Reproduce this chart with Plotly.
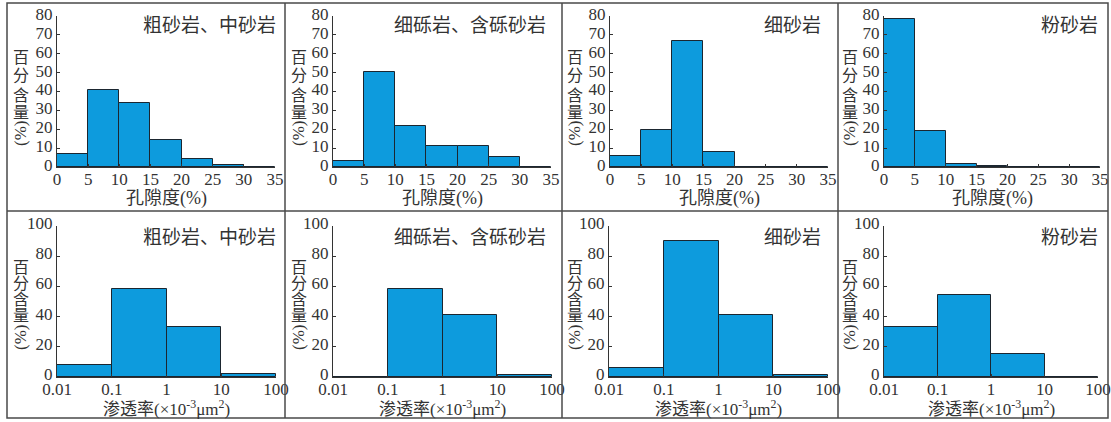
import math
import plotly.graph_objects as go

# ---------------- data ----------------
rock_types = ["粗砂岩、中砂岩", "细砾岩、含砾砂岩", "细砂岩", "粉砂岩"]

# porosity bins (%)
por_bin_left = [0, 5, 10, 15, 20, 25, 30]
por_ticks = [0, 5, 10, 15, 20, 25, 30, 35]
por_coarse = [7, 41, 34, 14.5, 4, 1, 0]
por_gravel = [3, 50.5, 21.5, 11, 11, 5.5, 0]
por_fine = [6, 19.5, 67, 8, 0, 0, 0]
por_silt = [78.5, 19, 1.5, 0.5, 0, 0, 0]

# permeability bins (x10^-3 um^2)
perm_edges = [0.01, 0.1, 1, 10, 100]
perm_tick_labels = ["0.01", "0.1", "1", "10", "100"]
perm_coarse = [8, 58.5, 33, 2]
perm_gravel = [0, 58, 41, 1.5]
perm_fine = [6, 90, 41, 1.5]
perm_silt = [33, 54, 15, 0]

por_series = [por_coarse, por_gravel, por_fine, por_silt]
perm_series = [perm_coarse, perm_gravel, perm_fine, perm_silt]

# ---------------- layout helpers ----------------
W, H = 1111, 422
def px(x):
    return x / W
def py(y):
    return 1 - y / H

BAR_FILL = "#0D9BDD"
BAR_EDGE = "#1b2630"
AX = "#333333"
TXT = "#333333"
NUM_FONT = '"Liberation Serif", "DejaVu Serif", serif'
CJK_FONT = '"Liberation Serif", "Noto Sans CJK SC", serif'

top_x = [(57, 275), (333, 551), (610, 828), (884, 1100)]
bot_x = [(57, 276), (333, 552), (609, 828), (884, 1098)]
top_y = (16, 167)
bot_y = (226, 377)

fig = go.Figure()
layout = {}
annotations = []

perm_log = [math.log10(v) for v in perm_edges]
perm_centers = [(perm_log[i] + perm_log[i + 1]) / 2 for i in range(len(perm_log) - 1)]
por_centers = [b + 2.5 for b in por_bin_left]

def axis_common():
    return dict(showline=True, linecolor=AX, linewidth=1, ticks="inside", ticklen=3,
                tickcolor=AX, showgrid=False, zeroline=False, automargin=False,
                ticklabeloverflow="allow",
                tickfont=dict(family=NUM_FONT, size=17, color=TXT))

for i in range(8):
    row = i // 4
    col = i % 4
    idx = i + 1
    xa = "x" if idx == 1 else f"x{idx}"
    ya = "y" if idx == 1 else f"y{idx}"
    xkey = "xaxis" if idx == 1 else f"xaxis{idx}"
    ykey = "yaxis" if idx == 1 else f"yaxis{idx}"
    if row == 0:
        x0, x1 = top_x[col]
        y0, y1 = top_y
        vals = por_series[col]
        fig.add_trace(go.Bar(x=por_centers, y=vals, width=[5] * len(vals), xaxis=xa, yaxis=ya,
                             marker=dict(color=BAR_FILL, line=dict(color=BAR_EDGE, width=1)),
                             showlegend=False, hoverinfo="skip"))
        xax = axis_common()
        xax.update(domain=[px(x0), px(x1)], range=[0, 35], tickmode="array", tickvals=por_ticks,
                   anchor=ya, ticklabelstandoff=-3)
        yax = axis_common()
        yax.update(domain=[py(y1), py(y0)], range=[0, 80], tickmode="array",
                   tickvals=list(range(0, 81, 10)), anchor=xa, ticklabelshift=-2)
        xtitle = "孔隙度(%)"
        xtitle_y = 198
        xt_size = 18
    else:
        x0, x1 = bot_x[col]
        y0, y1 = bot_y
        vals = perm_series[col]
        fig.add_trace(go.Bar(x=perm_centers, y=vals, width=[1] * len(vals), xaxis=xa, yaxis=ya,
                             marker=dict(color=BAR_FILL, line=dict(color=BAR_EDGE, width=1)),
                             showlegend=False, hoverinfo="skip"))
        xax = axis_common()
        xax.update(domain=[px(x0), px(x1)], range=[perm_log[0], perm_log[-1]], tickmode="array",
                   tickvals=perm_log, ticktext=perm_tick_labels, anchor=ya, ticklabelstandoff=-3)
        yax = axis_common()
        yax.update(domain=[py(y1), py(y0)], range=[0, 100], tickmode="array",
                   tickvals=list(range(0, 101, 20)), anchor=xa, ticklabelshift=-3)
        xtitle = "渗透率(×10<sup>-3</sup>μm<sup>2</sup>)"
        xtitle_y = 408
        xt_size = 17
    layout[xkey] = xax
    layout[ykey] = yax

    # x axis title
    annotations.append(dict(text=xtitle, x=px((x0 + x1) / 2), y=py(xtitle_y), xref="paper", yref="paper",
                            xanchor="center", yanchor="middle", showarrow=False,
                            font=dict(family=CJK_FONT, size=xt_size, color=TXT)))
    # panel label
    title_right = [278, 548, 823, 1100][col]
    title_y = 26 if row == 0 else 237
    annotations.append(dict(text=rock_types[col], x=px(title_right), y=py(title_y), xref="paper", yref="paper",
                            xanchor="right", yanchor="middle", showarrow=False,
                            font=dict(family=CJK_FONT, size=19, color=TXT)))
    # y axis title: stacked upright characters + rotated (%)
    tx = [21, 299, 575, 850][col]
    if row == 0:
        cy = [57, 76, 95, 113]
        pc = 134
    else:
        cy = [267, 283, 299, 315]
        pc = 338
    for ch, yy in zip("百分含量", cy):
        annotations.append(dict(text=ch, x=px(tx), y=py(yy), xref="paper", yref="paper",
                                xanchor="center", yanchor="middle", showarrow=False,
                                font=dict(family=CJK_FONT, size=16, color=TXT)))
    annotations.append(dict(text="(%)", x=px(tx - 1), y=py(pc), xref="paper", yref="paper",
                            xanchor="center", yanchor="middle", showarrow=False, textangle=-90,
                            font=dict(family=NUM_FONT, size=17, color=TXT)))

# frame lines
frame_color = "#4a4a4a"
shapes = [
    dict(type="rect", xref="paper", yref="paper", x0=px(7), x1=px(1108), y0=py(418), y1=py(3),
         line=dict(color=frame_color, width=1.5)),
    dict(type="line", xref="paper", yref="paper", x0=px(7), x1=px(1108), y0=py(211), y1=py(211),
         line=dict(color=frame_color, width=1.5)),
]
for vx in [285, 562, 838]:
    shapes.append(dict(type="line", xref="paper", yref="paper", x0=px(vx), x1=px(vx), y0=py(418), y1=py(3),
                       line=dict(color=frame_color, width=1.5)))

fig.update_layout(template="none", width=W, height=H, margin=dict(l=0, r=0, t=0, b=0, pad=0),
                  paper_bgcolor="white", plot_bgcolor="white", bargap=0, showlegend=False,
                  annotations=annotations, shapes=shapes, **layout)

fig.write_html("out.html", config={"displayModeBar": False},
               post_script="document.body.style.margin='0';document.body.style.overflow='hidden';")
